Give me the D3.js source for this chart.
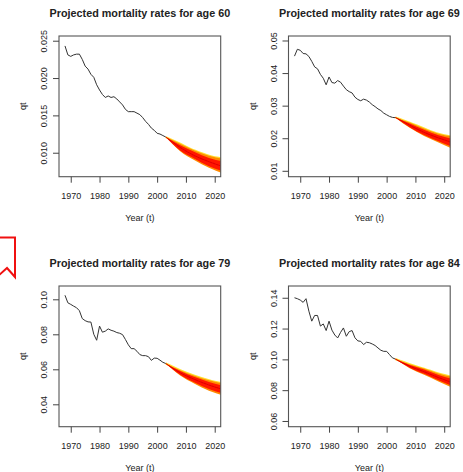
<!DOCTYPE html>
<html>
<head>
<meta charset="utf-8">
<script src="https://cdn.jsdelivr.net/npm/d3@7"></script>
<style>
  body { margin: 0; background: #fff; }
  text { font-family: "Liberation Sans", Arial, sans-serif; fill: #222; }
</style>
</head>
<body>
<svg id="chart" width="463" height="472"></svg>
<script>
// ---- data ----
const ages = [60, 69, 79, 84];

const histYears = [1968, 1969, 1970, 1971, 1972, 1973, 1974, 1975, 1976, 1977, 1978, 1979,
  1980, 1981, 1982, 1983, 1984, 1985, 1986, 1987, 1988, 1989, 1990, 1991,
  1992, 1993, 1994, 1995, 1996, 1997, 1998, 1999, 2000, 2001, 2002, 2003];

const qt60 = [0.0243, 0.0231, 0.0229, 0.0231, 0.0232, 0.0232, 0.0225, 0.0216, 0.0212, 0.0205, 0.0201, 0.0191,
  0.0184, 0.0178, 0.0174, 0.0176, 0.0174, 0.0175, 0.0172, 0.0168, 0.0164, 0.0158, 0.0155, 0.0155,
  0.0155, 0.0153, 0.0151, 0.0147, 0.0142, 0.0138, 0.0133, 0.0130, 0.0126, 0.0125, 0.0123, 0.0121];
const qt69 = [0.0452, 0.0473, 0.0470, 0.0460, 0.0459, 0.0451, 0.0436, 0.0419, 0.0413, 0.0396, 0.0384, 0.0364,
  0.0388, 0.0371, 0.0369, 0.0377, 0.0372, 0.0360, 0.0349, 0.0343, 0.0339, 0.0326, 0.0319, 0.0315,
  0.0320, 0.0317, 0.0311, 0.0303, 0.0297, 0.0290, 0.0285, 0.0277, 0.0272, 0.0267, 0.0264, 0.0263];
const qt79 = [0.1023, 0.0980, 0.0971, 0.0961, 0.0952, 0.0935, 0.0890, 0.0878, 0.0871, 0.0870, 0.0800, 0.0766,
  0.0847, 0.0812, 0.0818, 0.0831, 0.0823, 0.0818, 0.0810, 0.0806, 0.0798, 0.0770, 0.0740, 0.0718,
  0.0718, 0.0703, 0.0684, 0.0678, 0.0678, 0.0672, 0.0651, 0.0664, 0.0663, 0.0652, 0.0640, 0.0633];
const qt84 = [0.1400, 0.1394, 0.1385, 0.1370, 0.1394, 0.1313, 0.1248, 0.1285, 0.1285, 0.1216, 0.1230, 0.1187,
  0.1248, 0.1190, 0.1158, 0.1139, 0.1175, 0.1204, 0.1150, 0.1180, 0.1187, 0.1140, 0.1120, 0.1117,
  0.1096, 0.1111, 0.1108, 0.1100, 0.1090, 0.1074, 0.1059, 0.1052, 0.1052, 0.1031, 0.1010, 0.1002];

// projection fan: quantiles 5%, 25%, 50%, 75%, 95%
const fanYears = [2003, 2008, 2013, 2018, 2023];
const fan60 = [
  [0.0121, 0.0102, 0.0090, 0.0080, 0.0072],
  [0.0121, 0.0103, 0.0092, 0.0082, 0.0075],
  [0.0121, 0.0107, 0.0096, 0.0088, 0.0081],
  [0.0121, 0.0110, 0.0101, 0.0093, 0.0088],
  [0.0121, 0.0112, 0.0103, 0.0096, 0.0092]];
const fan69 = [
  [0.0264, 0.0232, 0.0207, 0.0187, 0.0167],
  [0.0264, 0.0234, 0.0210, 0.0191, 0.0173],
  [0.0264, 0.0240, 0.0218, 0.0201, 0.0186],
  [0.0264, 0.0245, 0.0226, 0.0209, 0.0198],
  [0.0264, 0.0248, 0.0230, 0.0214, 0.0205]];
const fan79 = [
  [0.0633, 0.0565, 0.0518, 0.0478, 0.0450],
  [0.0633, 0.0569, 0.0525, 0.0488, 0.0461],
  [0.0633, 0.0580, 0.0542, 0.0510, 0.0484],
  [0.0633, 0.0590, 0.0556, 0.0528, 0.0506],
  [0.0633, 0.0595, 0.0563, 0.0537, 0.0518]];
const fan84 = [
  [0.1002, 0.0943, 0.0900, 0.0857, 0.0814],
  [0.1002, 0.0946, 0.0906, 0.0865, 0.0826],
  [0.1002, 0.0955, 0.0920, 0.0882, 0.0847],
  [0.1002, 0.0964, 0.0934, 0.0899, 0.0873],
  [0.1002, 0.0968, 0.0940, 0.0908, 0.0885]];

const xTicks = [1970, 1980, 1990, 2000, 2010, 2020];
const xLimits = [1965.92, 2022.08];

const yTicks60 = [0.010, 0.015, 0.020, 0.025];
const yTicks69 = [0.01, 0.02, 0.03, 0.04, 0.05];
const yTicks79 = [0.04, 0.06, 0.08, 0.10];
const yTicks84 = [0.06, 0.08, 0.10, 0.12, 0.14];
const yLabels60 = ["0.010", "0.015", "0.020", "0.025"];
const yLabels69 = ["0.01", "0.02", "0.03", "0.04", "0.05"];
const yLabels79 = ["0.04", "0.06", "0.08", "0.10"];
const yLabels84 = ["0.06", "0.08", "0.10", "0.12", "0.14"];
const yLimits60 = [0.00679, 0.02563];
const yLimits69 = [0.00819, 0.05138];
const yLimits79 = [0.0272, 0.1076];
const yLimits84 = [0.05628, 0.14763];

// ---- layout ----
const panels = [
  { age: ages[0], qt: qt60, fan: fan60, ticks: yTicks60, labels: yLabels60, lim: yLimits60, col: 0, row: 0 },
  { age: ages[1], qt: qt69, fan: fan69, ticks: yTicks69, labels: yLabels69, lim: yLimits69, col: 1, row: 0 },
  { age: ages[2], qt: qt79, fan: fan79, ticks: yTicks79, labels: yLabels79, lim: yLimits79, col: 0, row: 1 },
  { age: ages[3], qt: qt84, fan: fan84, ticks: yTicks84, labels: yLabels84, lim: yLimits84, col: 1, row: 1 }
];
const boxW = 161.7, boxH = 140.7;

const svg = d3.select('#chart');
const defs = svg.append('defs');
defs.append('filter').attr('id', 'soft')
  .append('feGaussianBlur').attr('stdDeviation', 0.6);

// fan band colours, outer to inner
const bandColors = ['#ff8a00', '#ff1400'];

panels.forEach((p, i) => {
  const left = 59 + p.col * 229.5;
  const top = 36 + p.row * 250;

  const x = d3.scaleLinear().domain(xLimits).range([0, boxW]);
  const y = d3.scaleLinear().domain(p.lim).range([boxH, 0]);

  const g = svg.append('g').attr('transform', `translate(${left},${top})`);

  defs.append('clipPath').attr('id', 'clip' + i)
    .append('rect').attr('width', boxW).attr('height', boxH);

  const plot = g.append('g').attr('clip-path', `url(#clip${i})`);

  // fan: 5-95 band, then 25-75 band
  const fanRows = fanYears.map((yr, k) => ({ yr, q: p.fan.map(a => a[k]) }));
  const bands = [[0, 4], [1, 3]];
  const fanG = plot.append('g').attr('filter', 'url(#soft)');
  // pale yellow fringe along the upper edge
  fanG.append('path')
    .datum(fanRows)
    .attr('fill', 'none')
    .attr('stroke', '#ffe030')
    .attr('stroke-width', 2)
    .attr('d', d3.line().curve(d3.curveMonotoneX).x(d => x(d.yr)).y(d => y(d.q[4])));
  bands.forEach(([lo, hi], b) => {
    fanG.append('path')
      .datum(fanRows)
      .attr('fill', bandColors[b])
      .attr('d', d3.area()
        .curve(d3.curveMonotoneX)
        .x(d => x(d.yr))
        .y0(d => y(d.q[lo]))
        .y1(d => y(d.q[hi])));
  });
  fanG.append('path')
    .datum(fanRows)
    .attr('fill', 'none')
    .attr('stroke', '#e00000')
    .attr('stroke-width', 1)
    .attr('d', d3.line().curve(d3.curveMonotoneX).x(d => x(d.yr)).y(d => y(d.q[2])));

  // observed rates
  plot.append('path')
    .datum(histYears.map((yr, k) => [yr, p.qt[k]]))
    .attr('fill', 'none')
    .attr('stroke', '#333')
    .attr('stroke-width', 1)
    .attr('stroke-linejoin', 'round')
    .attr('d', d3.line().x(d => x(d[0])).y(d => y(d[1])));

  // box
  g.append('rect')
    .attr('width', boxW).attr('height', boxH)
    .attr('fill', 'none').attr('stroke', '#555').attr('stroke-width', 1.1);

  // x axis
  const xa = g.append('g')
    .attr('transform', `translate(0,${boxH})`)
    .call(d3.axisBottom(x).tickValues(xTicks).tickFormat(d3.format('d')).tickSize(6).tickPadding(10));
  xa.select('.domain').remove();
  xa.selectAll('line').attr('stroke', '#444');
  xa.selectAll('text').attr('font-size', 9).attr('font-family', null);

  // y axis, labels turned like R's default
  const ya = g.append('g')
    .call(d3.axisLeft(y).tickValues(p.ticks).tickFormat((d, k) => p.labels[k]).tickSize(6));
  ya.select('.domain').remove();
  ya.selectAll('line').attr('stroke', '#444');
  ya.selectAll('text')
    .attr('font-size', 9).attr('font-family', null)
    .attr('transform', 'rotate(-90)')
    .attr('x', 0).attr('y', -11.7).attr('dy', null)
    .attr('text-anchor', 'middle');

  // titles
  g.append('text')
    .attr('x', boxW / 2).attr('y', -19.2)
    .attr('text-anchor', 'middle')
    .attr('font-size', 10.8).attr('font-weight', 'bold')
    .text(`Projected mortality rates for age ${p.age}`);
  g.append('text')
    .attr('x', boxW / 2).attr('y', boxH + 44.5)
    .attr('text-anchor', 'middle')
    .attr('font-size', 9)
    .text('Year (t)');
  g.append('text')
    .attr('transform', `translate(-33,${boxH / 2}) rotate(-90)`)
    .attr('text-anchor', 'middle')
    .attr('font-size', 9)
    .text('qt');
});

// red bookmark outline cut by the left edge
svg.append('path')
  .attr('d', 'M-2,237.5 H15 V277 L7,268 L-2,276')
  .attr('fill', 'none')
  .attr('stroke', '#f01010')
  .attr('stroke-width', 2);
</script>
</body>
</html>
